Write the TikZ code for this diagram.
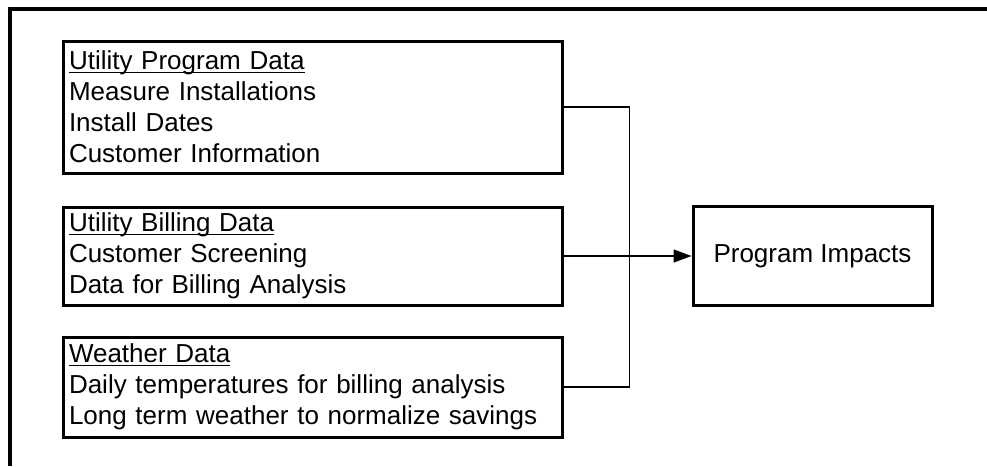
\documentclass[tikz,border=0pt]{standalone}
\usepackage{fontspec}
\setmainfont{Liberation Sans}
\usetikzlibrary{positioning,arrows.meta}
\tikzstyle{line} = [draw, line width=1.3pt, -{Triangle[length=18pt,width=13pt]}]
\tikzstyle{wire} = [draw, line width=1.3pt]
\tikzstyle{databox} = [rectangle, draw=black, line width=3pt, minimum width=499pt, text width=487pt, inner xsep=6pt, inner ysep=0pt, align=left, font=\fontsize{26pt}{31pt}\selectfont]
\newcommand{\headline}[1]{\setbox0\hbox{#1}\rlap{\rule[-3.5pt]{\wd0}{1.6pt}}#1}

\begin{document}
\begin{tikzpicture}[x=1pt, y=-1pt, align=left]

\useasboundingbox (0,0) rectangle (987,466);
% frame round the figure
\draw [line width=3.5pt] (10,466) -- (10,9) -- (987,9);

\node (program) [databox, minimum height=132pt] at (312.5,107) {\headline{Utility Program Data}\\ Measure Installations\\ Install Dates\\ Customer Information};

\node (billing) [databox, minimum height=98pt, below=31pt of program] {\headline{Utility Billing Data}\\ Customer Screening\\ Data for Billing Analysis};

\node (weather) [databox, minimum height=100pt, below=29pt of billing] {\headline{Weather Data}\\ Daily temperatures for billing analysis\\ Long term weather to normalize savings};

\node (impacts) [rectangle, draw=black, line width=3pt, minimum width=239pt, minimum height=99pt, align=center, right=128pt of billing, font=\fontsize{26pt}{31pt}\selectfont] {Program Impacts};

\coordinate [right=66pt of weather.east] (bus);
\path [wire] (program.east) -| (bus) -- (weather.east);
\path [line] (billing) -- (impacts);

\end{tikzpicture}
\end{document}
